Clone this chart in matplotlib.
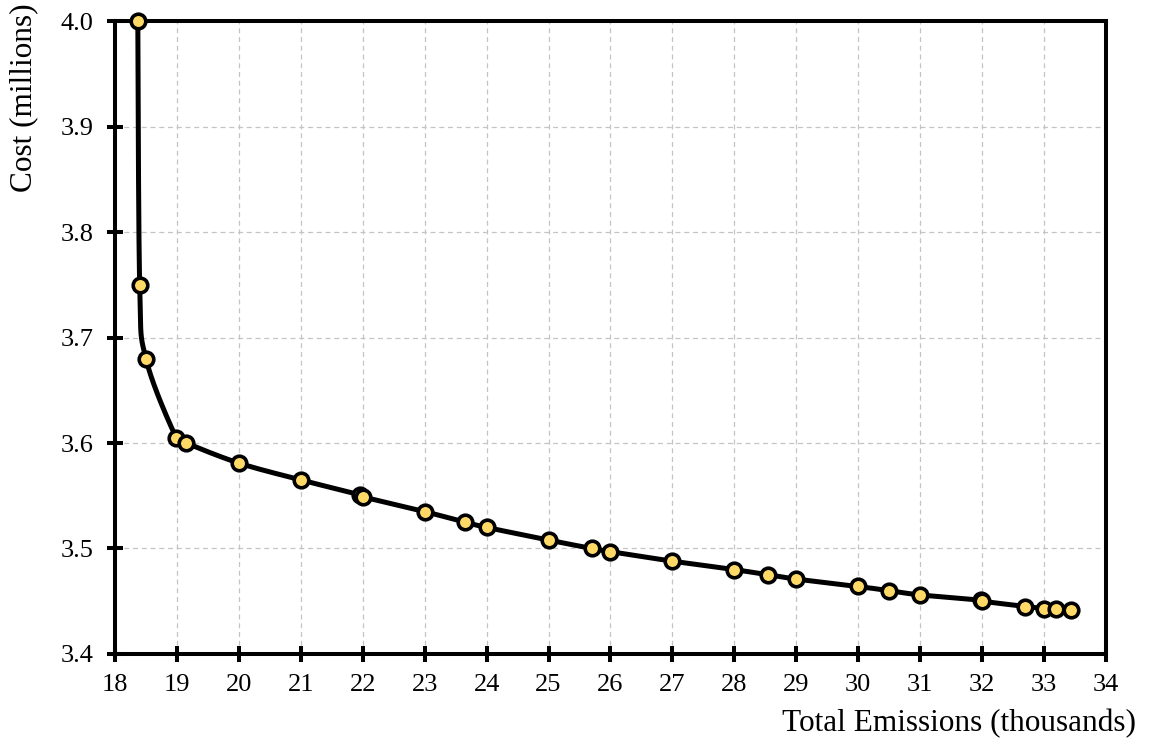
import numpy as np
import matplotlib
matplotlib.use("Agg")
import matplotlib.pyplot as plt

# Data
emissions = [18.37, 18.40, 18.50, 18.99, 19.15, 20.0, 21.0, 21.95, 22.0, 23.0,
             23.65, 24.0, 25.0, 25.7, 26.0, 27.0, 28.0, 28.55, 29.0, 30.0,
             30.5, 31.0, 31.98, 32.0, 32.7, 33.0, 33.2, 33.43]
cost = [4.0, 3.75, 3.68, 3.605, 3.60, 3.581, 3.565, 3.551, 3.549, 3.535,
        3.525, 3.520, 3.508, 3.500, 3.497, 3.488, 3.480, 3.475, 3.471, 3.464,
        3.460, 3.456, 3.451, 3.450, 3.445, 3.443, 3.443, 3.442]
x_ticks = list(range(18, 35))
y_ticks = [3.4, 3.5, 3.6, 3.7, 3.8, 3.9, 4.0]


def smooth(xs, ys, n=20):
    # Catmull-Rom through the points, done in scaled units so both axes weigh alike
    sx, sy = 1.0 / 16, 1.0 / 0.6
    p = np.column_stack([np.asarray(xs) * sx, np.asarray(ys) * sy])
    p = np.vstack([p[0], p, p[-1]])
    out = []
    for i in range(1, len(p) - 2):
        p0, p1, p2, p3 = p[i - 1], p[i], p[i + 1], p[i + 2]
        for t in np.linspace(0, 1, n, endpoint=False):
            t2, t3 = t * t, t * t * t
            out.append(0.5 * (2 * p1 + (-p0 + p2) * t
                              + (2 * p0 - 5 * p1 + 4 * p2 - p3) * t2
                              + (-p0 + 3 * p1 - 3 * p2 + p3) * t3))
    out.append(p[-2])
    out = np.array(out)
    return out[:, 0] / sx, out[:, 1] / sy


plt.rcParams['font.family'] = ['Liberation Serif', 'DejaVu Serif']

fig = plt.figure(figsize=(11.49, 7.44), dpi=100)
ax = fig.add_axes([0.100, 0.121, 0.8626, 0.8507])

lx, ly = smooth(emissions, cost)
ax.plot(lx, ly, color='black', linewidth=3.6, zorder=3, solid_capstyle='round')
ax.plot(emissions, cost, linestyle='none', marker='o', markersize=10.5,
        markerfacecolor='#FFD966', markeredgecolor='black', markeredgewidth=2.6,
        zorder=4, clip_on=False)

ax.set_xlim(18, 34)
ax.set_ylim(3.4, 4.0)
ax.set_xticks(x_ticks)
ax.set_yticks(y_ticks)
ax.set_yticklabels([f"{v:.1f}" for v in y_ticks])
ax.grid(True, color='#c4c4c4', linestyle=(0, (4, 3)), linewidth=0.9)
ax.set_axisbelow(True)

for s in ax.spines.values():
    s.set_linewidth(2.9)
ax.tick_params(axis='both', direction='inout', length=11, width=2.9,
               labelsize=19)
ax.tick_params(axis='x', pad=9)
ax.tick_params(axis='y', pad=10)

ax.set_xlabel('Total Emissions (thousands)', fontsize=22.5, ha='right', va='top')
ax.xaxis.set_label_coords(1.030, -0.087)
ax.set_ylabel('Cost (millions)', fontsize=22.5, ha='right', va='center')
ax.yaxis.set_label_coords(-0.092, 1.028)

fig.savefig('out.png', dpi=100)
